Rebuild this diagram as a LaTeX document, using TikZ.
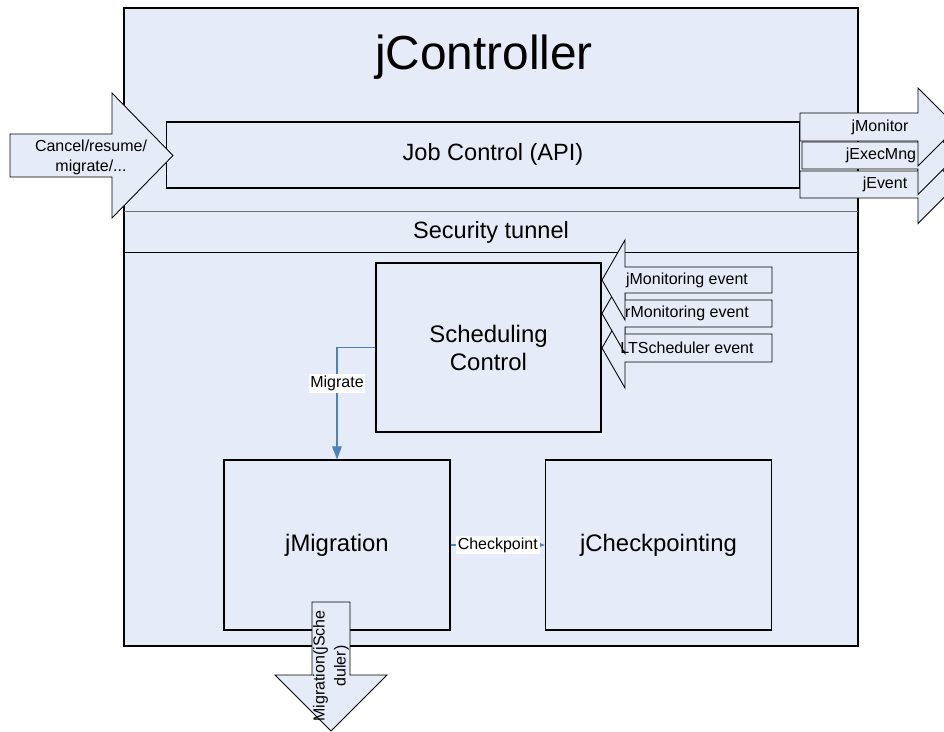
\documentclass[tikz,border=0pt]{standalone}
\usepackage{fontspec}
\setmainfont{Liberation Sans}
\usetikzlibrary{arrows.meta}
\definecolor{panel}{RGB}{230,236,247}
\definecolor{linkblue}{RGB}{79,129,189}
\definecolor{rulegray}{RGB}{110,110,110}

\begin{document}
\begin{tikzpicture}[x=0.02cm,y=-0.02cm,
  box/.style={draw=black,line width=0.6pt,fill=panel,inner sep=0pt},
  blockarrow/.style={draw=black,line width=0.5pt,fill=panel,line join=miter},
  small/.style={font=\fontsize{9.1}{11.3}\selectfont,align=center,inner sep=0pt},
  mid/.style={font=\fontsize{13.4}{15.5}\selectfont,inner sep=0pt},
  big/.style={font=\fontsize{13.6}{15.9}\selectfont,align=center},
  conn/.style={draw=linkblue,line width=0.6pt,-{Triangle[length=7.5pt,width=5.5pt]}},
  tag/.style={fill=white,font=\fontsize{9.1}{11}\selectfont,inner sep=1pt}]

\useasboundingbox (0,0) rectangle (944,731);
\clip (0,0) rectangle (944,731);

% jController frame with its title
\node[box,line width=1.5pt,minimum width=14.68cm,minimum height=12.76cm] (frame) at (491,327) {};
\node[font=\fontsize{27.2}{30}\selectfont,inner sep=0pt] (title) at (484,57) {jController};

% security tunnel band
\node[mid,minimum width=14.68cm,minimum height=0.8cm] (tunnel) at (491,232) {Security tunnel};
\draw[rulegray,line width=0.9pt] (tunnel.north west) -- (tunnel.north east);
\draw[black,line width=0.6pt] (tunnel.south west) -- (tunnel.south east);

% job control API
\node[box,minimum width=12.68cm,minimum height=1.32cm] (api) at (483,155) {};
\node[mid] (apilabel) at (493,154) {Job Control (API)};

% incoming command arrow
\path[blockarrow] (10,134) -- (112,134) -- (112,93) -- (173,155.5) -- (112,218) -- (112,177) -- (10,177) -- cycle;
\node[small] (cmd) at (91,157) {Cancel/resume/\\migrate/...};

% outgoing interface arrows
\path[blockarrow] (800,171) -- (918,171) -- (918,145.5) -- (957,184.5) -- (918,223.5) -- (918,198) -- (800,198) -- cycle;
\path[blockarrow] (802,142) -- (918,142) -- (918,116.5) -- (957,155.5) -- (918,194.5) -- (918,169) -- (802,169) -- cycle;
\path[blockarrow] (800,113) -- (918,113) -- (918,88) -- (957,127) -- (918,166) -- (918,141) -- (800,141) -- cycle;
\node[small] (mon) at (880,127) {jMonitor};
\node[small] (exec) at (881,155.5) {jExecMng};
\node[small] (evt) at (885,184.5) {jEvent};

% scheduling control
\node[box,big,minimum width=4.5cm,minimum height=3.38cm] (sched) at (488.5,347.5) {Scheduling\\Control};

% incoming event arrows
\path[blockarrow] (772,334) -- (625,334) -- (625,308) -- (602,348) -- (625,388) -- (625,362) -- (772,362) -- cycle;
\path[blockarrow] (772,300) -- (625,300) -- (625,273.5) -- (602,313.5) -- (625,353.5) -- (625,327) -- (772,327) -- cycle;
\path[blockarrow] (772,267) -- (625,267) -- (625,240) -- (602,280) -- (625,320) -- (625,293) -- (772,293) -- cycle;
\node[small] (ev1) at (687,280) {jMonitoring event};
\node[small] (ev2) at (687,313.5) {rMonitoring event};
\node[small] (ev3) at (687,348) {LTScheduler event};

% migration and checkpointing modules
\node[box,big,minimum width=4.52cm,minimum height=3.4cm] (mig) at (337,545) {jMigration};
\node[box,big,minimum width=4.52cm,minimum height=3.4cm] (chk) at (658.5,545) {jCheckpointing};

% connectors
\draw[conn] (sched.west) -| (mig.north) node[tag,pos=0.66] {Migrate};
\draw[conn] (mig.east) -- (chk.west) node[tag,midway] {Checkpoint};

% outgoing migration request
\path[blockarrow] (312,602) -- (350,602) -- (350,675) -- (387,675) -- (331,731) -- (275,675) -- (312,675) -- cycle;
\node[small,rotate=90,font=\fontsize{9.1}{11.9}\selectfont] (migout) at (331,666) {Migration(jSche\\duler)};
\end{tikzpicture}
\end{document}
